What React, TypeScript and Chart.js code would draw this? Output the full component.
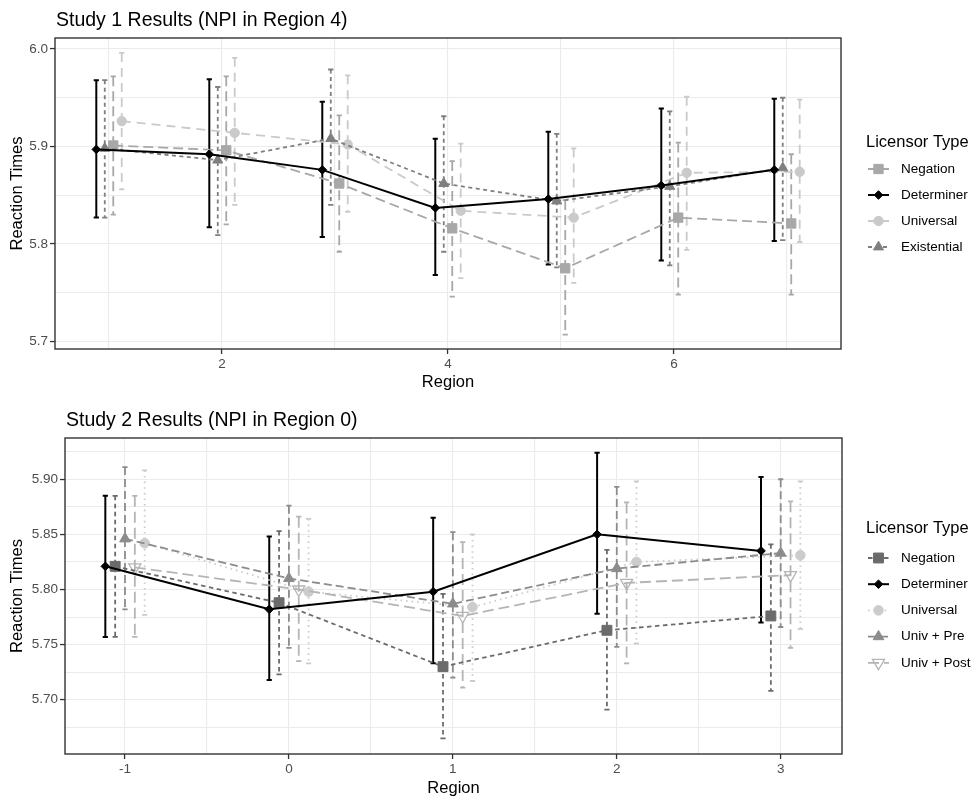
import React, { useEffect, useRef } from 'react';
import { Chart, registerables } from 'chart.js';
Chart.register(...registerables);

const FONT = "'Liberation Sans', Arial, Helvetica, sans-serif";

// ---------------- Study 1 data ----------------
const s1Regions = [1, 2, 3, 4, 5, 6, 7];
const s1XTicks = [1, 2, 3, 4, 5, 6, 7];
const s1XLabels = ['', '2', '', '4', '', '6', ''];
const s1YTicks = [5.7, 5.75, 5.8, 5.85, 5.9, 5.95, 6.0];
const s1YLabels = ['5.7', '', '5.8', '', '5.9', '', '6.0'];

const s1Negation = [5.901, 5.896, 5.862, 5.816, 5.775, 5.827, 5.821];
const s1NegationLo = [5.830, 5.820, 5.792, 5.746, 5.707, 5.748, 5.748];
const s1NegationHi = [5.972, 5.972, 5.932, 5.885, 5.845, 5.904, 5.892];

const s1Determiner = [5.897, 5.892, 5.876, 5.837, 5.846, 5.860, 5.876];
const s1DeterminerLo = [5.827, 5.817, 5.807, 5.768, 5.779, 5.783, 5.803];
const s1DeterminerHi = [5.968, 5.969, 5.946, 5.908, 5.915, 5.939, 5.949];

const s1Universal = [5.926, 5.914, 5.902, 5.834, 5.827, 5.873, 5.874];
const s1UniversalLo = [5.856, 5.840, 5.833, 5.765, 5.760, 5.794, 5.802];
const s1UniversalHi = [5.996, 5.991, 5.973, 5.903, 5.898, 5.951, 5.948];

const s1Existential = [5.898, 5.886, 5.908, 5.862, 5.844, 5.859, 5.878];
const s1ExistentialLo = [5.827, 5.809, 5.840, 5.792, 5.776, 5.778, 5.804];
const s1ExistentialHi = [5.968, 5.961, 5.979, 5.931, 5.913, 5.936, 5.950];

// ---------------- Study 2 data ----------------
const s2Regions = [-1, 0, 1, 2, 3];
const s2XTicks = [-1, -0.5, 0, 0.5, 1, 1.5, 2, 2.5, 3];
const s2XLabels = ['-1', '', '0', '', '1', '', '2', '', '3'];
const s2YTicks = [5.675, 5.7, 5.725, 5.75, 5.775, 5.8, 5.825, 5.85, 5.875, 5.9, 5.925];
const s2YLabels = ['', '5.70', '', '5.75', '', '5.80', '', '5.85', '', '5.90', ''];

const s2Negation = [5.821, 5.788, 5.730, 5.763, 5.776];
const s2NegationLo = [5.757, 5.723, 5.665, 5.691, 5.708];
const s2NegationHi = [5.885, 5.853, 5.796, 5.836, 5.841];

const s2Determiner = [5.821, 5.782, 5.798, 5.850, 5.835];
const s2DeterminerLo = [5.757, 5.718, 5.733, 5.778, 5.770];
const s2DeterminerHi = [5.885, 5.848, 5.865, 5.924, 5.902];

const s2Universal = [5.842, 5.798, 5.784, 5.825, 5.831];
const s2UniversalLo = [5.777, 5.733, 5.717, 5.751, 5.764];
const s2UniversalHi = [5.908, 5.864, 5.850, 5.898, 5.898];

const s2UnivPre = [5.846, 5.810, 5.787, 5.819, 5.833];
const s2UnivPreLo = [5.782, 5.747, 5.720, 5.748, 5.766];
const s2UnivPreHi = [5.911, 5.876, 5.852, 5.893, 5.900];

const s2UnivPost = [5.820, 5.800, 5.776, 5.806, 5.813];
const s2UnivPostLo = [5.757, 5.735, 5.711, 5.733, 5.747];
const s2UnivPostHi = [5.885, 5.866, 5.843, 5.879, 5.880];

type Series = {
  label: string;
  x: number[];
  y: number[];
  lo: number[];
  hi: number[];
  dodge: number;
  color: string;
  dash: number[];
  width: number;
  shape: string;
  radius: number;
  rotation?: number;
  open?: boolean;
  order: number;
};

type Cfg = {
  title: string;
  series: Series[];
  legendOrder: string[];
  xMin: number; xMax: number; yMin: number; yMax: number;
  xTicks: number[]; xLabels: string[]; yTicks: number[]; yLabels: string[];
  area: { left: number; right: number; top: number; bottom: number };
  canvasH: number;
  titleBaseline: number;
  xTitleBaseline: number;
  legendTitleY: number;
  legendY0: number;
  legendStep: number;
};

const study1: Cfg = {
  title: 'Study 1 Results (NPI in Region 4)',
  series: [
    { label: 'Negation', x: s1Regions, y: s1Negation, lo: s1NegationLo, hi: s1NegationHi, dodge: 0.0375, color: '#a8a8a8', dash: [10, 5], width: 1.8, shape: 'rect', radius: 6.6, order: 1 },
    { label: 'Determiner', x: s1Regions, y: s1Determiner, lo: s1DeterminerLo, hi: s1DeterminerHi, dodge: -0.1125, color: '#000000', dash: [], width: 2, shape: 'rectRot', radius: 4.3, order: -1 },
    { label: 'Universal', x: s1Regions, y: s1Universal, lo: s1UniversalLo, hi: s1UniversalHi, dodge: 0.1125, color: '#cacaca', dash: [9, 6], width: 1.8, shape: 'circle', radius: 4.7, order: 2 },
    { label: 'Existential', x: s1Regions, y: s1Existential, lo: s1ExistentialLo, hi: s1ExistentialHi, dodge: -0.0375, color: '#7f7f7f', dash: [4, 3.5], width: 1.8, shape: 'triangle', radius: 5.8, order: 0 },
  ],
  legendOrder: ['Negation', 'Determiner', 'Universal', 'Existential'],
  xMin: 0.522, xMax: 7.478, yMin: 5.6922, yMax: 6.0113,
  xTicks: s1XTicks, xLabels: s1XLabels, yTicks: s1YTicks, yLabels: s1YLabels,
  area: { left: 55, right: 841, top: 38, bottom: 349 },
  canvasH: 398,
  titleBaseline: 26,
  xTitleBaseline: 387,
  legendTitleY: 142,
  legendY0: 169,
  legendStep: 26,
};

const study2: Cfg = {
  title: 'Study 2 Results (NPI in Region 0)',
  series: [
    { label: 'Negation', x: s2Regions, y: s2Negation, lo: s2NegationLo, hi: s2NegationHi, dodge: -0.06, color: '#6b6b6b', dash: [4.5, 3.5], width: 1.8, shape: 'rect', radius: 7, order: 0 },
    { label: 'Determiner', x: s2Regions, y: s2Determiner, lo: s2DeterminerLo, hi: s2DeterminerHi, dodge: -0.12, color: '#000000', dash: [], width: 2, shape: 'rectRot', radius: 4.3, order: -1 },
    { label: 'Universal', x: s2Regions, y: s2Universal, lo: s2UniversalLo, hi: s2UniversalHi, dodge: 0.12, color: '#cccccc', dash: [1.6, 4], width: 1.8, shape: 'circle', radius: 4.8, order: 3 },
    { label: 'Univ + Pre', x: s2Regions, y: s2UnivPre, lo: s2UnivPreLo, hi: s2UnivPreHi, dodge: 0, color: '#8c8c8c', dash: [8, 4], width: 1.8, shape: 'triangle', radius: 6.2, order: 1 },
    { label: 'Univ + Post', x: s2Regions, y: s2UnivPost, lo: s2UnivPostLo, hi: s2UnivPostHi, dodge: 0.06, color: '#b5b5b5', dash: [11, 5], width: 1.8, shape: 'triangle', rotation: 180, open: true, radius: 7, order: 2 },
  ],
  legendOrder: ['Negation', 'Determiner', 'Universal', 'Univ + Pre', 'Univ + Post'],
  xMin: -1.366, xMax: 3.374, yMin: 5.6508, yMax: 5.9374,
  xTicks: s2XTicks, xLabels: s2XLabels, yTicks: s2YTicks, yLabels: s2YLabels,
  area: { left: 65, right: 842, top: 40, bottom: 356 },
  canvasH: 398,
  titleBaseline: 28,
  xTitleBaseline: 395,
  legendTitleY: 130,
  legendY0: 160,
  legendStep: 26.2,
};

function drawMarker(ctx: CanvasRenderingContext2D, s: Series, x: number, y: number) {
  ctx.save();
  ctx.setLineDash([]);
  ctx.fillStyle = s.color;
  ctx.strokeStyle = s.color;
  ctx.lineWidth = s.open ? 1.3 : 1;
  const r = s.radius;
  ctx.beginPath();
  if (s.shape === 'rect') {
    const h = r * Math.SQRT1_2;
    ctx.rect(x - h, y - h, 2 * h, 2 * h);
  } else if (s.shape === 'rectRot') {
    ctx.moveTo(x - r, y);
    ctx.lineTo(x, y - r);
    ctx.lineTo(x + r, y);
    ctx.lineTo(x, y + r);
    ctx.closePath();
  } else if (s.shape === 'circle') {
    ctx.arc(x, y, r, 0, Math.PI * 2);
  } else {
    const rot = ((s.rotation || 0) * Math.PI) / 180;
    for (let k = 0; k < 3; k++) {
      const a = rot + (k * 2 * Math.PI) / 3;
      const px = x + Math.sin(a) * r;
      const py = y - Math.cos(a) * r;
      if (k === 0) ctx.moveTo(px, py);
      else ctx.lineTo(px, py);
    }
    ctx.closePath();
  }
  if (!s.open) ctx.fill();
  ctx.stroke();
  ctx.restore();
}

function makePlugin(cfg: Cfg) {
  return {
    id: 'decor',
    beforeDatasetsDraw(chart: any) {
      const ctx: CanvasRenderingContext2D = chart.ctx;
      const xs = chart.scales.x;
      const ys = chart.scales.y;
      const cap = 2.6;
      const ordered = [...cfg.series].sort((a, b) => b.order - a.order);
      ordered.forEach((s) => {
        ctx.save();
        ctx.strokeStyle = s.color;
        ctx.lineWidth = s.width;
        s.x.forEach((xv, i) => {
          const px = xs.getPixelForValue(xv + s.dodge);
          const pt = ys.getPixelForValue(s.hi[i]);
          const pb = ys.getPixelForValue(s.lo[i]);
          ctx.setLineDash(s.dash);
          ctx.beginPath();
          ctx.moveTo(px, pt);
          ctx.lineTo(px, pb);
          ctx.stroke();
          ctx.setLineDash([]);
          ctx.beginPath();
          ctx.moveTo(px - cap, pt);
          ctx.lineTo(px + cap, pt);
          ctx.moveTo(px - cap, pb);
          ctx.lineTo(px + cap, pb);
          ctx.stroke();
        });
        ctx.restore();
      });
    },
    afterDatasetsDraw(chart: any) {
      const ctx: CanvasRenderingContext2D = chart.ctx;
      const a = chart.chartArea;
      ctx.save();
      ctx.strokeStyle = '#333333';
      ctx.lineWidth = 1.4;
      ctx.setLineDash([]);
      ctx.strokeRect(a.left, a.top, a.right - a.left, a.bottom - a.top);
      ctx.restore();
    },
    afterDraw(chart: any) {
      const ctx: CanvasRenderingContext2D = chart.ctx;
      const a = chart.chartArea;
      ctx.save();
      ctx.fillStyle = '#000000';
      // main title
      ctx.font = `19.5px ${FONT}`;
      ctx.textAlign = 'left';
      ctx.textBaseline = 'alphabetic';
      ctx.fillText(cfg.title, a.left + 1, cfg.titleBaseline);
      // x axis title
      ctx.font = `16.5px ${FONT}`;
      ctx.textAlign = 'center';
      ctx.fillText('Region', (a.left + a.right) / 2, cfg.xTitleBaseline);
      // y axis title
      ctx.save();
      ctx.translate(17, (a.top + a.bottom) / 2);
      ctx.rotate(-Math.PI / 2);
      ctx.textBaseline = 'middle';
      ctx.fillText('Reaction Times', 0, 0);
      ctx.restore();
      // legend
      ctx.textAlign = 'left';
      ctx.textBaseline = 'middle';
      ctx.font = `16.5px ${FONT}`;
      ctx.fillText('Licensor Type', 866, cfg.legendTitleY);
      ctx.font = `13.5px ${FONT}`;
      cfg.legendOrder.forEach((name, i) => {
        const s = cfg.series.find((q) => q.label === name)!;
        const y = cfg.legendY0 + i * cfg.legendStep;
        ctx.save();
        ctx.strokeStyle = s.color;
        ctx.lineWidth = s.width;
        ctx.setLineDash(s.dash);
        ctx.beginPath();
        ctx.moveTo(868, y);
        ctx.lineTo(889, y);
        ctx.stroke();
        ctx.restore();
        drawMarker(ctx, s, 878.5, y);
        ctx.fillStyle = '#000000';
        ctx.fillText(name, 901, y);
      });
      ctx.restore();
    },
  };
}

function makeChart(canvas: HTMLCanvasElement, cfg: Cfg) {
  const datasets = cfg.series.map((s) => ({
    label: s.label,
    data: s.x.map((xv, i) => ({ x: xv + s.dodge, y: s.y[i] })),
    borderColor: s.color,
    backgroundColor: s.open ? 'rgba(0,0,0,0)' : s.color,
    borderWidth: s.width,
    borderDash: s.dash,
    pointStyle: s.shape,
    pointRadius: s.radius,
    pointHoverRadius: s.radius,
    pointRotation: s.rotation || 0,
    pointBorderWidth: s.open ? 1.3 : 1,
    pointBackgroundColor: s.open ? 'rgba(0,0,0,0)' : s.color,
    pointBorderColor: s.color,
    tension: 0,
    fill: false,
    order: s.order,
  }));
  const tickFont = { size: 13.5, family: FONT };
  return new Chart(canvas, {
    type: 'line',
    data: { datasets },
    options: {
      responsive: false,
      animation: false,
      devicePixelRatio: 1,
      layout: { padding: { left: 0, right: 972 - cfg.area.right, top: cfg.area.top, bottom: 0 } },
      plugins: { legend: { display: false }, tooltip: { enabled: false }, title: { display: false } },
      events: [],
      scales: {
        x: {
          type: 'linear',
          min: cfg.xMin,
          max: cfg.xMax,
          afterBuildTicks: (s: any) => {
            s.ticks = cfg.xTicks.map((v) => ({ value: v }));
          },
          afterFit: (s: any) => {
            s.height = cfg.canvasH - cfg.area.bottom;
          },
          grid: {
            color: '#ebebeb',
            lineWidth: 1.1,
            tickLength: 5,
            tickWidth: 1.3,
            tickColor: (c: any) => (cfg.xLabels[c.index] ? '#333333' : 'rgba(0,0,0,0)'),
          },
          border: { display: false },
          ticks: {
            autoSkip: false,
            maxRotation: 0,
            minRotation: 0,
            padding: 2,
            color: '#4d4d4d',
            font: tickFont,
            callback: (_v: any, i: number) => cfg.xLabels[i],
          },
        },
        y: {
          type: 'linear',
          min: cfg.yMin,
          max: cfg.yMax,
          afterBuildTicks: (s: any) => {
            s.ticks = cfg.yTicks.map((v) => ({ value: v }));
          },
          afterFit: (s: any) => {
            s.width = cfg.area.left;
          },
          grid: {
            color: '#ebebeb',
            lineWidth: 1.1,
            tickLength: 5,
            tickWidth: 1.3,
            tickColor: (c: any) => (cfg.yLabels[c.index] ? '#333333' : 'rgba(0,0,0,0)'),
          },
          border: { display: false },
          ticks: {
            autoSkip: false,
            padding: 2,
            color: '#4d4d4d',
            font: tickFont,
            callback: (_v: any, i: number) => cfg.yLabels[i],
          },
        },
      },
    },
    plugins: [makePlugin(cfg)],
  } as any);
}

function ChartPanel({ cfg }: { cfg: Cfg }) {
  const ref = useRef<HTMLCanvasElement>(null);
  useEffect(() => {
    const chart = makeChart(ref.current as HTMLCanvasElement, cfg);
    return () => chart.destroy();
  }, [cfg]);
  return (
    <canvas
      ref={ref}
      width={972}
      height={cfg.canvasH}
      style={{ display: 'block', width: 972, height: cfg.canvasH }}
    />
  );
}

export default function App() {
  return (
    <div style={{ position: 'absolute', left: 0, top: 0, width: 972, height: 796, background: '#ffffff' }}>
      <ChartPanel cfg={study1} />
      <ChartPanel cfg={study2} />
    </div>
  );
}
